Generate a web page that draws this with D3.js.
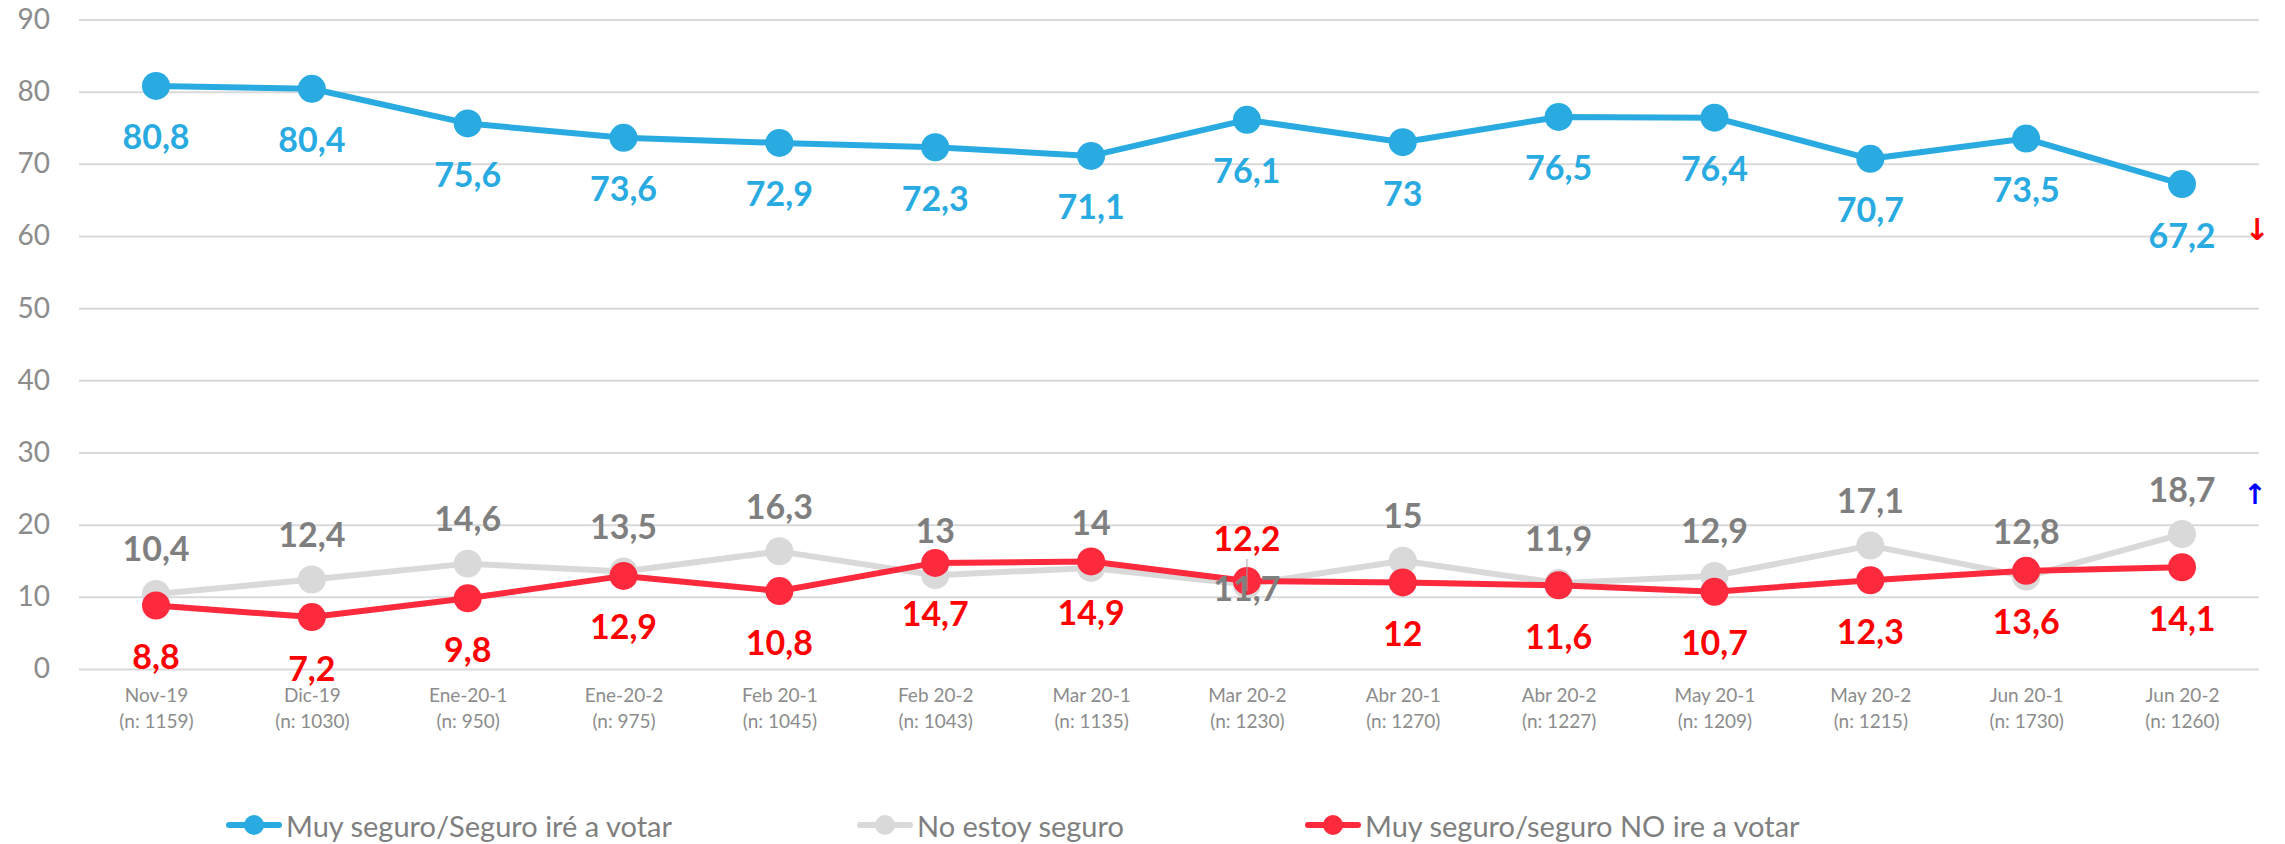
<!DOCTYPE html>
<html>
<head>
<meta charset="utf-8">
<script src="https://cdn.jsdelivr.net/npm/d3@7"></script>
<style>
  html, body { margin: 0; padding: 0; background: #ffffff; }
  svg { display: block; }
</style>
</head>
<body>
<svg id="chart" width="2285" height="844"></svg>
<script>
// Survey waves (month + fieldwork half) and sample sizes
const periods = ["Nov-19", "Dic-19", "Ene-20-1", "Ene-20-2", "Feb 20-1", "Feb 20-2", "Mar 20-1",
                 "Mar 20-2", "Abr 20-1", "Abr 20-2", "May 20-1", "May 20-2", "Jun 20-1", "Jun 20-2"];
const sampleSizes = [1159, 1030, 950, 975, 1045, 1043, 1135, 1230, 1270, 1227, 1209, 1215, 1730, 1260];

// Percentages per answer
const willVote    = [80.8, 80.4, 75.6, 73.6, 72.9, 72.3, 71.1, 76.1, 73, 76.5, 76.4, 70.7, 73.5, 67.2];
const notSure     = [10.4, 12.4, 14.6, 13.5, 16.3, 13, 14, 11.7, 15, 11.9, 12.9, 17.1, 12.8, 18.7];
const willNotVote = [8.8, 7.2, 9.8, 12.9, 10.8, 14.7, 14.9, 12.2, 12, 11.6, 10.7, 12.3, 13.6, 14.1];

const yTicks = [0, 10, 20, 30, 40, 50, 60, 70, 80, 90];

const seriesNames = ["Muy seguro/Seguro iré a votar", "No estoy seguro", "Muy seguro/seguro NO ire a votar"];

const svg = d3.select("#chart");
const gridLeft = 79, gridRight = 2259;

const x = d3.scalePoint().domain(periods).range([156, 2182]);
const y = d3.scaleLinear().domain([0, 90]).range([669, 19.5]);

// Horizontal gridlines + value axis
const yAxis = svg.append("g")
  .attr("transform", `translate(${gridLeft},0)`)
  .call(d3.axisLeft(y).tickValues(yTicks).tickSize(-(gridRight - gridLeft)).tickPadding(29).tickFormat(d3.format("d")));
yAxis.select(".domain").remove();
yAxis.selectAll(".tick line").attr("stroke", "#d9d9d9").attr("stroke-width", 2);
yAxis.selectAll(".tick text")
  .attr("fill", "#8c8c8c").attr("font-family", "Lato, sans-serif").attr("font-size", 28);

// Category axis with two-line labels
const xAxis = svg.append("g")
  .attr("transform", "translate(0,669)")
  .call(d3.axisBottom(x).tickSize(0).tickPadding(0));
xAxis.select(".domain").remove();
xAxis.selectAll(".tick text").each(function (d, i) {
  const t = d3.select(this);
  t.text(null)
    .attr("fill", "#8c8c8c").attr("font-family", "Lato, sans-serif").attr("font-size", 19)
    .attr("y", 0).attr("dy", null);
  t.append("tspan").attr("x", 0).attr("y", 33).text(d);
  t.append("tspan").attr("x", 0).attr("y", 59).text(`(n: ${sampleSizes[i]})`);
});

const series = [
  { values: willVote,    line: "#29abe2", label: "#29abe2", labelDy: () => 50 },
  { values: notSure,     line: "#d9d9d9", label: "#7f7f7f", labelDy: (i) => i === 7 ? 3 : -46 },
  { values: willNotVote, line: "#fc2a3c", label: "#ff0000", labelDy: (i) => i === 7 ? -43 : 50 }
];

const lineGen = d3.line().x((d, i) => x(periods[i])).y(d => y(d));
const fmt = v => String(v).replace(".", ",");

// Lines and markers
series.forEach(s => {
  const g = svg.append("g");
  g.append("path").datum(s.values)
    .attr("d", lineGen).attr("fill", "none")
    .attr("stroke", s.line).attr("stroke-width", 6).attr("stroke-linejoin", "round");
  g.selectAll("circle").data(s.values).join("circle")
    .attr("cx", (d, i) => x(periods[i])).attr("cy", d => y(d)).attr("r", 14)
    .attr("fill", s.line);
});

// Leader line for the shifted label at Mar 20-2
svg.append("line")
  .attr("x1", x(periods[7])).attr("x2", x(periods[7]))
  .attr("y1", y(willNotVote[7]) - 22).attr("y2", y(willNotVote[7]) + 10)
  .attr("stroke", "#a6a6a6").attr("stroke-width", 1);

// Data labels
series.forEach(s => {
  svg.append("g").selectAll("text").data(s.values).join("text")
    .attr("x", (d, i) => x(periods[i]))
    .attr("y", (d, i) => y(d) + s.labelDy(i))
    .attr("text-anchor", "middle").attr("dominant-baseline", "central")
    .attr("font-family", "Lato, sans-serif").attr("font-weight", "bold").attr("font-size", 34)
    .attr("fill", s.label)
    .text(d => fmt(d));
});

// Trend arrows at the last wave
svg.append("text").attr("x", 2257).attr("y", y(willVote[13]) + 45)
  .attr("text-anchor", "middle").attr("dominant-baseline", "central")
  .attr("font-family", "DejaVu Sans, sans-serif").attr("font-weight", "bold")
  .attr("font-size", 30).attr("fill", "#ff0000").text("↓");
svg.append("text").attr("x", 2255).attr("y", y(notSure[13]) - 40)
  .attr("text-anchor", "middle").attr("dominant-baseline", "central")
  .attr("font-family", "DejaVu Sans, sans-serif").attr("font-weight", "bold")
  .attr("font-size", 28).attr("fill", "#0000ff").text("↑");

// Legend
const legendX = [226, 857, 1305];
const legend = svg.append("g").attr("transform", "translate(0,825)");
series.forEach((s, i) => {
  const g = legend.append("g").attr("transform", `translate(${legendX[i]},0)`);
  g.append("line").attr("x1", 3).attr("x2", 53).attr("y1", 0).attr("y2", 0)
    .attr("stroke", s.line).attr("stroke-width", 6).attr("stroke-linecap", "round");
  g.append("circle").attr("cx", 28).attr("cy", 0).attr("r", 10).attr("fill", s.line);
  g.append("text").attr("x", 60).attr("y", 0).attr("dominant-baseline", "central")
    .attr("font-family", "Lato, sans-serif").attr("font-size", 29).attr("fill", "#7f7f7f")
    .text(seriesNames[i]);
});
</script>
</body>
</html>
